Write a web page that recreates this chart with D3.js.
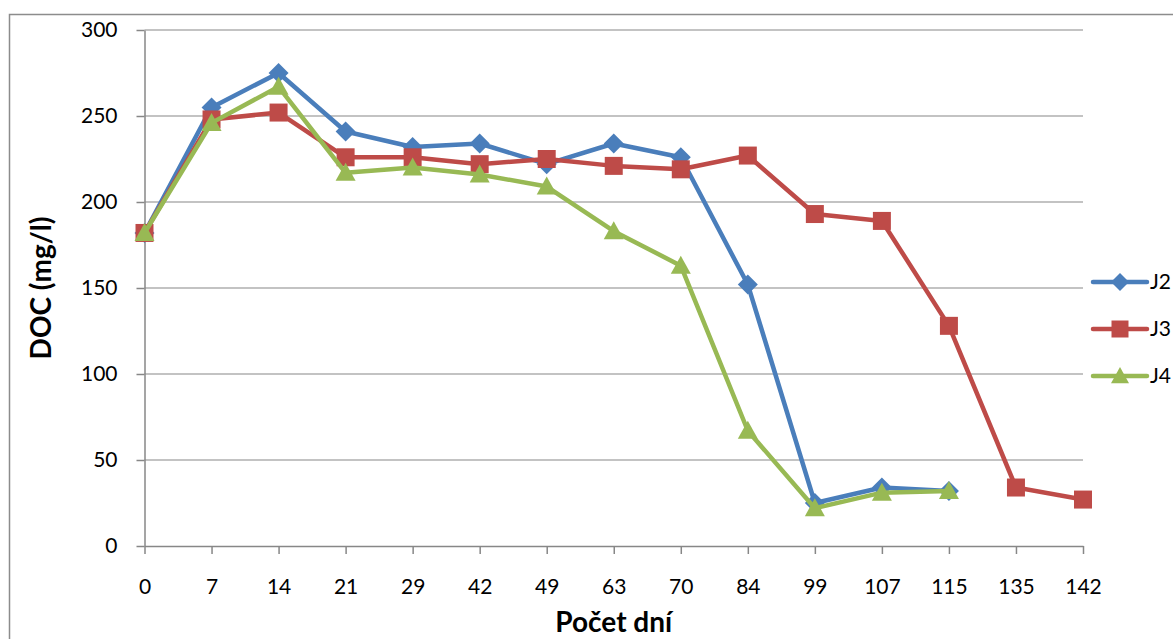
<!DOCTYPE html>
<html>
<head>
<meta charset="utf-8">
<script src="https://cdn.jsdelivr.net/npm/d3@7"></script>
<style>
  html, body { margin: 0; padding: 0; background: #fff; }
  svg { display: block; font-family: Lato, "Open Sans", sans-serif; }
</style>
</head>
<body>
<svg id="chart" width="1173" height="639"></svg>
<script>
// Sampling days (categorical axis)
const days = ["0", "7", "14", "21", "29", "42", "49", "63", "70", "84", "99", "107", "115", "135", "142"];
// DOC concentrations (mg/l) per reactor
const j2 = [182, 255, 275, 241, 232, 234, 222, 234, 226, 152, 25, 34, 32, null, null];
const j3 = [182, 248, 252, 226, 226, 222, 225, 221, 219, 227, 193, 189, 128, 34, 27];
const j4 = [182, 246, 267, 217, 220, 216, 209, 183, 163, 67, 22, 31, 32, null, null];
const yTicks = [0, 50, 100, 150, 200, 250, 300];

const seriesList = [
  { name: "J2", values: j2, color: "#4A7EBB", symbol: "diamond" },
  { name: "J3", values: j3, color: "#BE4B48", symbol: "square" },
  { name: "J4", values: j4, color: "#98B954", symbol: "triangle" }
];

const svg = d3.select("#chart");
const plotLeft = 144.5, plotRight = 1083, plotTop = 30, plotBottom = 546;

const x = d3.scalePoint().domain(days).range([plotLeft, plotRight]);
const y = d3.scaleLinear().domain([0, 300]).range([plotBottom, plotTop]);

// outer chart frame
svg.append("rect")
  .attr("x", 9.5).attr("y", 14.5)
  .attr("width", 1200).attr("height", 700)
  .attr("fill", "none").attr("stroke", "#8c8c8c").attr("stroke-width", 1.5);

// horizontal gridlines
svg.append("g").selectAll("line")
  .data(yTicks.filter(d => d > 0))
  .join("line")
  .attr("x1", plotLeft).attr("x2", plotRight)
  .attr("y1", d => y(d)).attr("y2", d => y(d))
  .attr("stroke", "#878787").attr("stroke-width", 1.2);

// axes
const yAxis = svg.append("g")
  .attr("transform", `translate(${plotLeft},0)`)
  .call(d3.axisLeft(y).tickValues(yTicks).tickSizeInner(8).tickSizeOuter(0).tickPadding(19));
const xAxis = svg.append("g")
  .attr("transform", `translate(0,${plotBottom})`)
  .call(d3.axisBottom(x).tickSizeInner(8).tickSizeOuter(0).tickPadding(25));

[yAxis, xAxis].forEach(g => {
  g.selectAll("path, line").attr("stroke", "#878787").attr("stroke-width", 1.5);
  g.selectAll("text").attr("fill", "#000").style("font-size", "21px")
    .style("font-family", "Lato, 'Open Sans', sans-serif");
});

// axis titles
svg.append("text")
  .attr("transform", `translate(51,${(plotTop + plotBottom) / 2}) rotate(-90)`)
  .attr("text-anchor", "middle")
  .style("font-size", "28px").style("font-weight", "bold")
  .text("DOC (mg/l)");
svg.append("text")
  .attr("x", (plotLeft + plotRight) / 2).attr("y", 632)
  .attr("text-anchor", "middle")
  .style("font-size", "28px").style("font-weight", "bold")
  .text("Počet dní");

// marker shapes
const symbolPath = {
  diamond: s => `M0,${-s}L${s},0L0,${s}L${-s},0Z`,
  square: s => `M${-s},${-s}H${s}V${s}H${-s}Z`,
  triangle: s => `M0,${-s}L${s},${s * 0.8}L${-s},${s * 0.8}Z`
};
const symbolSize = { diamond: 10, square: 9, triangle: 10 };

const line = d3.line()
  .defined(d => d.v != null)
  .x(d => x(d.day))
  .y(d => y(d.v));

seriesList.forEach(s => {
  const pts = days.map((day, i) => ({ day, v: s.values[i] }));
  const g = svg.append("g");
  g.append("path")
    .datum(pts)
    .attr("d", line)
    .attr("fill", "none")
    .attr("stroke", s.color)
    .attr("stroke-width", 4.5)
    .attr("stroke-linejoin", "round");
  g.selectAll("path.m")
    .data(pts.filter(d => d.v != null))
    .join("path")
    .attr("class", "m")
    .attr("transform", d => `translate(${x(d.day)},${y(d.v)})`)
    .attr("d", symbolPath[s.symbol](symbolSize[s.symbol]))
    .attr("fill", s.color);
});

// legend
const legend = svg.append("g");
seriesList.forEach((s, i) => {
  const ly = 282 + i * 47;
  legend.append("line")
    .attr("x1", 1093).attr("x2", 1147)
    .attr("y1", ly).attr("y2", ly)
    .attr("stroke", s.color).attr("stroke-width", 4.5).attr("stroke-linecap", "round");
  legend.append("path")
    .attr("transform", `translate(1120,${ly})`)
    .attr("d", symbolPath[s.symbol](s.symbol === "square" ? 8.5 : 9))
    .attr("fill", s.color);
  legend.append("text")
    .attr("x", 1150).attr("y", ly)
    .attr("dy", "0.35em")
    .style("font-size", "21px")
    .text(s.name);
});
</script>
</body>
</html>
